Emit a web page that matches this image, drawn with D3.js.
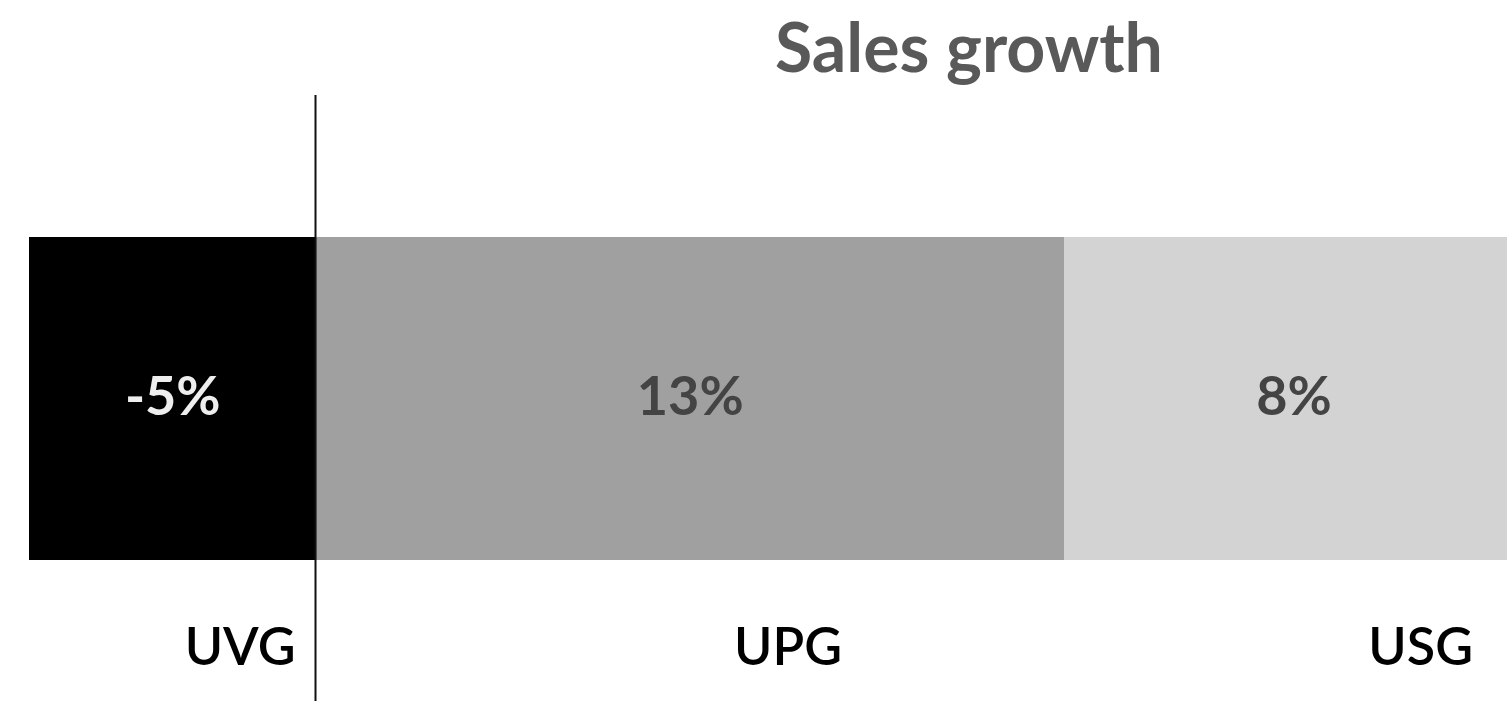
<!DOCTYPE html>
<html>
<head>
<meta charset="utf-8">
<script src="https://cdn.jsdelivr.net/npm/d3@7/dist/d3.min.js"></script>
<style>
  html, body { margin: 0; padding: 0; background: #fff; overflow: hidden; }
  svg { display: block; }
  text { font-family: Lato, "Open Sans", sans-serif; }
</style>
</head>
<body>
<svg id="chart" width="1507" height="701"></svg>
<script>
// Segments of the sales growth bridge
const categories = ["UVG", "UPG", "USG"];
const growth = [-5, 13, 8];
const valueLabels = ["-5%", "13%", "8%"];
const title = "Sales growth";

const W = 1507, H = 701;
const svg = d3.select("#chart");

// Segment colours and label colours
const fills = ["#000000", "#a0a0a0", "#d3d3d3"];
const labelFills = ["#eeeeee", "#444444", "#444444"];

// Stack: negative segment sits left of zero, positives continue right
let pos = 0;
const segs = categories.map((c, i) => {
  const v = growth[i];
  let x0, x1;
  if (v < 0) { x0 = v; x1 = 0; }
  else { x0 = pos; x1 = pos + v; pos += v; }
  return { cat: c, v, x0, x1, i };
});

const x = d3.scaleLinear().domain([-5, 13]).range([29, 1064]);
const barTop = 237, barBottom = 560;

svg.append("g").selectAll("rect")
  .data(segs).join("rect")
  .attr("x", d => x(d.x0))
  .attr("width", d => x(d.x1) - x(d.x0))
  .attr("y", barTop)
  .attr("height", barBottom - barTop)
  .attr("fill", d => fills[d.i]);

// Value labels in segment centres
svg.append("g").selectAll("text")
  .data(segs).join("text")
  .attr("x", d => (x(d.x0) + x(d.x1)) / 2)
  .attr("y", 415)
  .attr("text-anchor", "middle")
  .attr("font-size", 54)
  .attr("font-weight", 700)
  .attr("fill", d => labelFills[d.i])
  .text(d => valueLabels[d.i]);

// Zero line
svg.append("line")
  .attr("x1", x(0) - 1).attr("x2", x(0) - 1)
  .attr("y1", 95).attr("y2", H)
  .attr("stroke", "#111").attr("stroke-width", 2);

// Category labels beneath the bar
const catPos = [
  { x: x(0) - 21, anchor: "end" },
  { x: 788, anchor: "middle" },
  { x: 1473, anchor: "end" }
];
svg.append("g").selectAll("text")
  .data(segs).join("text")
  .attr("x", d => catPos[d.i].x)
  .attr("y", 665)
  .attr("text-anchor", d => catPos[d.i].anchor)
  .attr("font-size", 52)
  .attr("font-weight", 600)
  .attr("fill", "#000")
  .text(d => d.cat);

// Title
svg.append("text")
  .attr("x", 969)
  .attr("y", 72)
  .attr("text-anchor", "middle")
  .attr("font-size", 68)
  .attr("font-weight", 700)
  .attr("fill", "#595959")
  .text(title);
</script>
</body>
</html>
